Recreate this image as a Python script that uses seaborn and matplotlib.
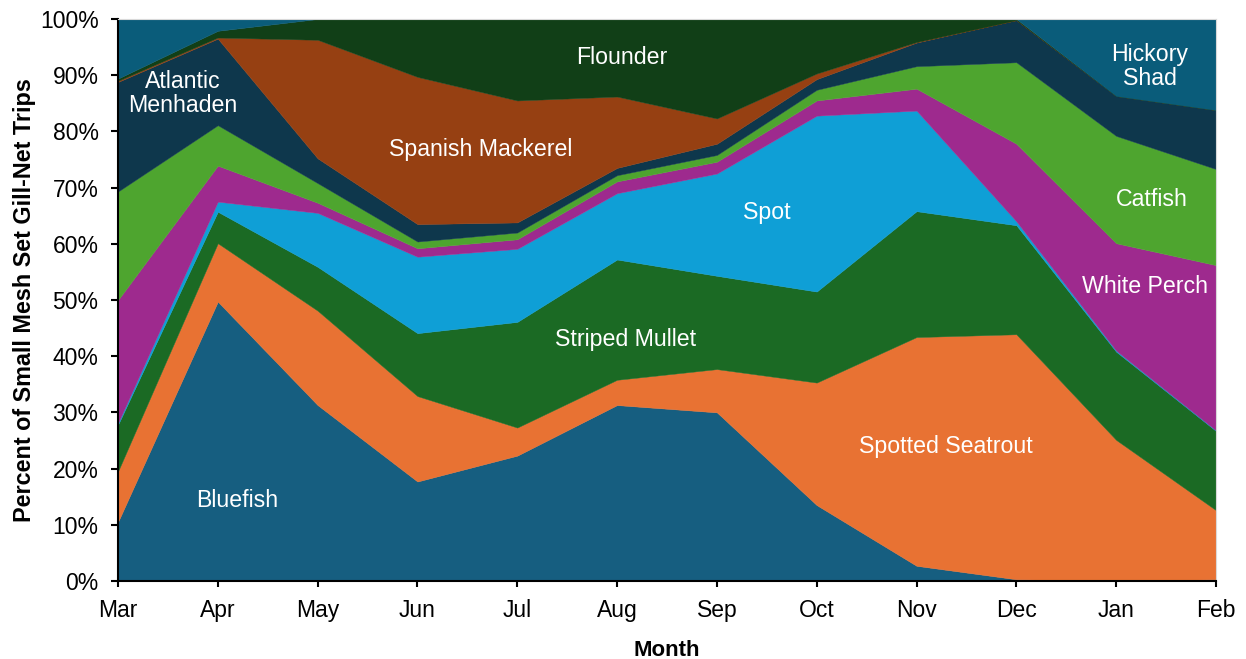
import numpy as np
import pandas as pd
import matplotlib
matplotlib.use("Agg")
import matplotlib.pyplot as plt
import seaborn as sns

# 월별 어종 비율 (%), 아래에서 위로 쌓는 순서
months = ["Mar", "Apr", "May", "Jun", "Jul", "Aug", "Sep", "Oct", "Nov", "Dec", "Jan", "Feb"]
species = ["Bluefish", "Spotted Seatrout", "Striped Mullet", "Spot", "White Perch",
           "Catfish", "Atlantic Menhaden", "Spanish Mackerel", "Flounder", "Hickory Shad"]

bluefish = [10.5, 49.7, 31.3, 17.7, 22.3, 31.3, 30.0, 13.5, 2.7, 0.3, 0.1, 0.3]
spotted_seatrout = [9.0, 10.4, 16.8, 15.2, 5.0, 4.5, 7.7, 21.8, 40.7, 43.6, 25.0, 12.3]
striped_mullet = [8.3, 5.6, 7.8, 11.2, 18.8, 21.4, 16.6, 16.2, 22.4, 19.4, 15.7, 14.1]
spot = [0.3, 1.8, 9.6, 13.6, 13.0, 11.8, 18.2, 31.3, 17.9, 0.7, 0.2, 0.1]
white_perch = [21.9, 6.4, 1.8, 1.5, 1.7, 2.1, 2.1, 2.7, 3.9, 13.8, 19.1, 29.4]
catfish = [19.3, 7.2, 3.5, 1.2, 1.2, 1.1, 1.2, 1.9, 4.0, 14.5, 19.1, 17.1]
atlantic_menhaden = [19.5, 15.4, 4.4, 3.1, 1.8, 1.3, 2.0, 1.9, 4.2, 7.5, 7.1, 10.5]
spanish_mackerel = [0.2, 0.2, 21.1, 26.2, 21.7, 12.7, 4.5, 1.0, 0.1, 0.0, 0.0, 0.0]
flounder = [0.4, 1.2, 3.7, 10.3, 14.5, 13.8, 17.7, 9.7, 4.1, 0.2, 0.0, 0.0]
hickory_shad = [10.6, 2.1, 0.0, 0.0, 0.0, 0.0, 0.0, 0.0, 0.0, 0.0, 13.7, 16.2]

colors = ["#165E80", "#E87233", "#1B6A24", "#0F9FD6", "#9E2A8E",
          "#4EA52F", "#0E374C", "#964012", "#113F17", "#0A5C7A"]

df = pd.DataFrame({
    "Bluefish": bluefish,
    "Spotted Seatrout": spotted_seatrout,
    "Striped Mullet": striped_mullet,
    "Spot": spot,
    "White Perch": white_perch,
    "Catfish": catfish,
    "Atlantic Menhaden": atlantic_menhaden,
    "Spanish Mackerel": spanish_mackerel,
    "Flounder": flounder,
    "Hickory Shad": hickory_shad,
}, index=months)

sns.set_theme(style="ticks")
plt.rcParams["font.family"] = ["Liberation Sans", "DejaVu Sans"]

fig = plt.figure(figsize=(12.46, 6.59), dpi=100)
ax = fig.add_axes([0.0947, 0.1184, 0.8812, 0.8528])

x = np.arange(len(months))
ax.stackplot(x, [df[s].values for s in species], colors=colors,
             edgecolor="face", linewidth=0.3)

# 영역 라벨 (데이터 좌표)
labels = [
    ("Bluefish", 1.19, 14.4),
    ("Spotted Seatrout", 8.29, 23.9),
    ("Striped Mullet", 5.09, 43.0),
    ("Spot", 6.5, 65.5),
    ("White Perch", 10.29, 52.4),
    ("Catfish", 10.36, 67.9),
    ("Atlantic\nMenhaden", 0.65, 86.7),
    ("Spanish Mackerel", 3.63, 76.8),
    ("Flounder", 5.05, 93.2),
    ("Hickory\nShad", 10.34, 91.6),
]
for txt, lx, ly in labels:
    ax.text(lx, ly, txt, color="white", fontsize=16.7, ha="center", va="center",
            linespacing=1.05)

ax.set_xlim(0, len(months) - 1)
ax.set_ylim(0, 100)
ax.set_xticks(x)
ax.set_xticklabels(months)
ax.set_yticks(np.arange(0, 101, 10))
ax.set_yticklabels([f"{v}%" for v in range(0, 101, 10)])
ax.tick_params(axis="both", labelsize=16.5, width=1.5, color="black",
               labelcolor="black", direction="out")
ax.tick_params(axis="x", length=4.5, pad=8.5)
ax.tick_params(axis="y", length=5, pad=9)

ax.set_xlabel("Month", fontsize=16, fontweight="bold", color="black", labelpad=13)
ax.set_ylabel("Percent of Small Mesh Set Gill-Net Trips", fontsize=16.8,
              fontweight="bold", color="black", labelpad=3)

for side in ["left", "bottom"]:
    ax.spines[side].set_color("black")
    ax.spines[side].set_linewidth(1.5)
for side in ["top", "right"]:
    ax.spines[side].set_color("#d9d9d9")
    ax.spines[side].set_linewidth(0.8)

fig.savefig("out.png", dpi=100)
